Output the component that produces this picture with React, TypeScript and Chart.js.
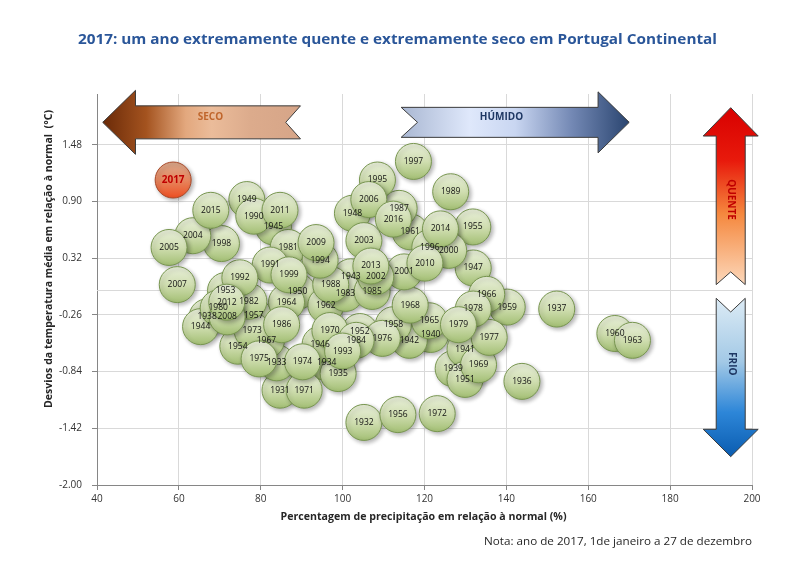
import React, { useEffect, useRef } from 'react';
import { Chart, registerables } from 'chart.js';

Chart.register(...registerables);

// ---- Data ----
const years = [
  1931, 1932, 1933, 1934, 1935, 1936, 1937, 1938, 1939, 1940,
  1941, 1942, 1943, 1944, 1945, 1946, 1947, 1948, 1949, 1950,
  1951, 1952, 1953, 1954, 1955, 1956, 1957, 1958, 1959, 1960,
  1961, 1962, 1963, 1964, 1965, 1966, 1967, 1968, 1969, 1970,
  1971, 1972, 1973, 1974, 1975, 1976, 1977, 1978, 1979, 1980,
  1981, 1982, 1983, 1984, 1985, 1986, 1987, 1988, 1989, 1990,
  1991, 1992, 1993, 1994, 1995, 1996, 1997, 1998, 1999, 2000,
  2001, 2002, 2003, 2004, 2005, 2006, 2007, 2008, 2009, 2010,
  2011, 2012, 2013, 2014, 2015, 2016,
];
const precipitation = [
  84.7, 105.2, 83.9, 96.1, 98.9, 143.8, 152.3, 66.9, 127.0, 121.5,
  129.9, 116.3, 102.0, 65.3, 83.1, 94.5, 131.9, 102.4, 76.6, 89.0,
  129.9, 104.2, 71.4, 74.4, 131.8, 113.5, 78.3, 112.4, 140.2, 166.5,
  116.5, 95.9, 170.8, 86.3, 121.2, 135.2, 81.4, 116.5, 133.2, 96.9,
  90.6, 123.1, 77.9, 90.2, 79.6, 109.7, 135.8, 131.9, 128.3, 69.6,
  86.7, 77.1, 100.7, 103.3, 107.2, 85.1, 113.8, 97.1, 126.4, 78.3,
  82.3, 74.9, 100.0, 94.5, 108.5, 121.3, 117.3, 70.4, 86.9, 125.9,
  115.0, 108.1, 105.2, 63.4, 57.6, 106.4, 59.6, 71.8, 93.5, 120.1,
  84.7, 71.7, 106.9, 123.9, 67.8, 112.4,
];
const temperatureDeviation = [
  -1.03, -1.36, -0.75, -0.75, -0.86, -0.94, -0.20, -0.28, -0.81, -0.46,
  -0.61, -0.52, 0.13, -0.38, 0.64, -0.56, 0.22, 0.78, 0.92, -0.02,
  -0.92, -0.43, -0.01, -0.58, 0.64, -1.28, -0.27, -0.36, -0.18, -0.45,
  0.59, -0.16, -0.52, -0.13, -0.32, -0.05, -0.52, -0.16, -0.77, -0.42,
  -1.03, -1.27, -0.42, -0.74, -0.71, -0.50, -0.49, -0.20, -0.36, -0.19,
  0.43, -0.12, -0.04, -0.52, -0.02, -0.36, 0.83, 0.05, 1.00, 0.75,
  0.25, 0.12, -0.63, 0.30, 1.12, 0.43, 1.31, 0.47, 0.15, 0.40,
  0.18, 0.13, 0.50, 0.55, 0.43, 0.92, 0.05, -0.28, 0.48, 0.27,
  0.81, -0.13, 0.24, 0.62, 0.81, 0.72,
];
const highlightYears = [2017];
const highlightPrecipitation = [58.6];
const highlightTemperature = [1.12];

const xTicks = [40, 60, 80, 100, 120, 140, 160, 180, 200];
const yTicks = [-2.0, -1.42, -0.84, -0.26, 0.32, 0.9, 1.48];

const titleText = '2017: um ano extremamente quente e extremamente seco em Portugal Continental';
const xTitle = 'Percentagem de precipitação em relação à normal (%)';
const yTitle = 'Desvios da temperatura média em relação à normal  (°C)';
const noteText = 'Nota: ano de 2017, 1de janeiro a 27 de dezembro';

const FONT = "'Open Sans', 'Liberation Sans', sans-serif";
const GRID = '#d9d9d9';
const R = 18;

function drawFitted(
  ctx: CanvasRenderingContext2D, text: string, cx: number, cy: number,
  targetW: number, font: string, color: string, rotate = 0,
) {
  ctx.save();
  ctx.font = font;
  const w = ctx.measureText(text).width;
  const sx = w > 0 ? targetW / w : 1;
  ctx.translate(cx, cy);
  if (rotate) ctx.rotate(rotate);
  ctx.scale(sx, 1);
  ctx.textAlign = 'center';
  ctx.textBaseline = 'middle';
  ctx.fillStyle = color;
  ctx.fillText(text, 0, 0);
  ctx.restore();
}

function polygon(ctx: CanvasRenderingContext2D, pts: number[][], fill: CanvasGradient, stroke: string) {
  ctx.beginPath();
  pts.forEach((p, i) => (i === 0 ? ctx.moveTo(p[0], p[1]) : ctx.lineTo(p[0], p[1])));
  ctx.closePath();
  ctx.fillStyle = fill;
  ctx.fill();
  ctx.lineWidth = 1;
  ctx.strokeStyle = stroke;
  ctx.stroke();
}

function hArrow(tipX: number, headX: number, tailX: number, notchX: number, cy: number, shaft: number, head: number) {
  return [
    [tipX, cy], [headX, cy - head], [headX, cy - shaft], [tailX, cy - shaft],
    [notchX, cy], [tailX, cy + shaft], [headX, cy + shaft], [headX, cy + head],
  ];
}
function vArrow(tipY: number, headY: number, tailY: number, notchY: number, cx: number, shaft: number, head: number) {
  return [
    [cx, tipY], [cx + head, headY], [cx + shaft, headY], [cx + shaft, tailY],
    [cx, notchY], [cx - shaft, tailY], [cx - shaft, headY], [cx - head, headY],
  ];
}

const decorPlugin = {
  id: 'decor',
  beforeDatasetsDraw(chart: any) {
    const ctx: CanvasRenderingContext2D = chart.ctx;
    const xs = chart.scales.x;
    const ys = chart.scales.y;
    const { left, right } = chart.chartArea;
    const px = (v: number) => xs.getPixelForValue(v);
    const py = (v: number) => ys.getPixelForValue(v);
    ctx.save();
    // zero line
    const y0 = Math.round(py(0)) + 0.5;
    ctx.strokeStyle = GRID;
    ctx.lineWidth = 1;
    ctx.beginPath();
    ctx.moveTo(left, y0);
    ctx.lineTo(right, y0);
    ctx.stroke();

    // SECO arrow (left)
    {
      const tip = px(41.4), headB = px(49.4), tail = px(89.7), notch = px(86.1), cy = py(1.71);
      const g = ctx.createLinearGradient(tip, 0, tail, 0);
      g.addColorStop(0, '#6a2a08');
      g.addColorStop(0.22, '#a4531f');
      g.addColorStop(0.42, '#e3a87e');
      g.addColorStop(0.55, '#ebbc9a');
      g.addColorStop(0.75, '#dcab8c');
      g.addColorStop(1, '#d6a588');
      polygon(ctx, hArrow(tip, headB, tail, notch, cy, 16.5, 32), g, '#3a3a3a');
      ctx.save();
      ctx.font = `bold 10px ${FONT}`;
      ctx.fillStyle = '#c0662c';
      ctx.textAlign = 'center';
      ctx.textBaseline = 'middle';
      ctx.fillText('SECO', px(67.7), py(1.76));
      ctx.restore();
    }
    // HÚMIDO arrow (right)
    {
      const tip = px(170.0), headB = px(162.4), tail = px(114.3), notch = px(118.3), cy = py(1.71);
      const g = ctx.createLinearGradient(tail, 0, tip, 0);
      g.addColorStop(0, '#a9b7d2');
      g.addColorStop(0.3, '#dfe8fb');
      g.addColorStop(0.5, '#c9d6f1');
      g.addColorStop(0.75, '#7388b4');
      g.addColorStop(1, '#2a4570');
      polygon(ctx, hArrow(tip, headB, tail, notch, cy, 15, 30.5), g, '#3a3a3a');
      ctx.save();
      ctx.font = `bold 10px ${FONT}`;
      ctx.fillStyle = '#1f3864';
      ctx.textAlign = 'center';
      ctx.textBaseline = 'middle';
      ctx.fillText('HÚMIDO', px(138.8), py(1.76));
      ctx.restore();
    }
    // QUENTE arrow (up)
    {
      const cx = px(194.8);
      const tip = py(1.86), headB = py(1.57), tail = py(0.05), notch = py(0.18);
      const g = ctx.createLinearGradient(0, tip, 0, tail);
      g.addColorStop(0, '#d80000');
      g.addColorStop(0.3, '#e81a0c');
      g.addColorStop(0.6, '#f5883e');
      g.addColorStop(1, '#fcd8bb');
      polygon(ctx, vArrow(tip, headB, tail, notch, cx, 14.5, 27.5), g, '#3a3a3a');
      ctx.save();
      ctx.translate(cx, py(0.92));
      ctx.rotate(Math.PI / 2);
      ctx.font = `bold 10px ${FONT}`;
      ctx.fillStyle = '#c00000';
      ctx.textAlign = 'center';
      ctx.textBaseline = 'middle';
      ctx.fillText('QUENTE', 0, 0);
      ctx.restore();
    }
    // FRIO arrow (down)
    {
      const cx = px(194.8);
      const tip = py(-1.71), headB = py(-1.43), tail = py(-0.09), notch = py(-0.23);
      const g = ctx.createLinearGradient(0, tail, 0, tip);
      g.addColorStop(0, '#dcebf5');
      g.addColorStop(0.4, '#a3c9e6');
      g.addColorStop(0.72, '#2d86d8');
      g.addColorStop(1, '#0a5cb0');
      polygon(ctx, vArrow(tip, headB, tail, notch, cx, 14.5, 27.5), g, '#3a3a3a');
      ctx.save();
      ctx.translate(cx + 1, py(-0.76));
      ctx.rotate(Math.PI / 2);
      ctx.font = `bold 10px ${FONT}`;
      ctx.fillStyle = '#1f3864';
      ctx.textAlign = 'center';
      ctx.textBaseline = 'middle';
      ctx.fillText('FRIO', 0, 0);
      ctx.restore();
    }
    ctx.restore();
  },
  beforeDatasetDraw(chart: any) {
    const ctx = chart.ctx;
    ctx.save();
    ctx.shadowColor = 'rgba(0,0,0,0.3)';
    ctx.shadowBlur = 4;
    ctx.shadowOffsetX = 2;
    ctx.shadowOffsetY = 2;
  },
  afterDatasetDraw(chart: any) {
    chart.ctx.restore();
  },
  afterDatasetsDraw(chart: any) {
    const ctx: CanvasRenderingContext2D = chart.ctx;
    ctx.save();
    ctx.textAlign = 'center';
    ctx.textBaseline = 'middle';
    chart.data.datasets.forEach((ds: any, di: number) => {
      const meta = chart.getDatasetMeta(di);
      meta.data.forEach((el: any, i: number) => {
        const label = String(ds.yearLabels[i]);
        if (ds.highlight) {
          ctx.font = `bold 10px ${FONT}`;
          ctx.fillStyle = '#c00000';
        } else {
          ctx.font = `8.5px ${FONT}`;
          ctx.fillStyle = '#111111';
        }
        ctx.fillText(label, el.x, el.y);
      });
    });
    ctx.restore();
  },
  afterDraw(chart: any) {
    const ctx: CanvasRenderingContext2D = chart.ctx;
    const { left, right } = chart.chartArea;
    drawFitted(ctx, titleText, 397.5, 40, 639, `bold 15px ${FONT}`, '#2a5699');
    drawFitted(ctx, yTitle, 49, 259, 298, `bold 11px ${FONT}`, '#262626', -Math.PI / 2);
    drawFitted(ctx, xTitle, (left + right) / 2 - 1, 517, 286, `bold 11px ${FONT}`, '#262626');
    drawFitted(ctx, noteText, 618, 542, 268, `11px ${FONT}`, '#262626');
  },
};

function makeGradient(chart: any, raw: any, colors: string[]) {
  const xs = chart.scales.x;
  const ys = chart.scales.y;
  if (!xs || !ys || !raw) return colors[1];
  const cx = xs.getPixelForValue(raw.x);
  const cy = ys.getPixelForValue(raw.y);
  if (!isFinite(cx) || !isFinite(cy)) return colors[1];
  const g = chart.ctx.createLinearGradient(cx, cy - R, cx, cy + R);
  g.addColorStop(0, colors[0]);
  g.addColorStop(0.5, colors[1]);
  g.addColorStop(1, colors[2]);
  return g;
}

export default function App() {
  const canvasRef = useRef<HTMLCanvasElement | null>(null);

  useEffect(() => {
    if (!canvasRef.current) return;
    const greenColors = ['#e8efd9', '#d0deb1', '#a3bf74'];
    const redColors = ['#d9a88c', '#e6875f', '#ee4f22'];
    const chart = new Chart(canvasRef.current, {
      type: 'bubble',
      data: {
        datasets: [
          {
            label: 'Anos',
            data: years.map((_, i) => ({ x: precipitation[i], y: temperatureDeviation[i] })),
            yearLabels: years,
            radius: R,
            borderWidth: 1,
            borderColor: '#789650',
            backgroundColor: (c: any) => makeGradient(c.chart, c.raw, greenColors),
          } as any,
          {
            label: '2017',
            data: highlightYears.map((_, i) => ({ x: highlightPrecipitation[i], y: highlightTemperature[i] })),
            yearLabels: highlightYears,
            highlight: true,
            radius: R,
            borderWidth: 1,
            borderColor: '#a94a2a',
            backgroundColor: (c: any) => makeGradient(c.chart, c.raw, redColors),
          } as any,
        ],
      },
      options: {
        responsive: false,
        animation: false,
        events: [],
        layout: { padding: { top: 94, right: 53, bottom: 31, left: 0 } },
        plugins: {
          legend: { display: false },
          title: { display: false },
          tooltip: { enabled: false },
        },
        scales: {
          x: {
            type: 'linear',
            min: 40,
            max: 200,
            afterBuildTicks: (scale: any) => {
              scale.ticks = xTicks.map((v) => ({ value: v }));
            },
            afterFit: (scale: any) => {
              scale.height = 45;
            },
            grid: { color: GRID, lineWidth: 1, drawTicks: true, tickLength: 5, tickColor: '#868686' },
            border: { display: true, color: '#868686' },
            ticks: {
              padding: 3,
              color: '#333333',
              font: { family: FONT, size: 10 },
              callback: (v: any) => String(v),
            },
          },
          y: {
            type: 'linear',
            min: -2,
            max: 2,
            afterBuildTicks: (scale: any) => {
              scale.ticks = yTicks.map((v) => ({ value: v }));
            },
            afterFit: (scale: any) => {
              scale.width = 97;
            },
            grid: { color: GRID, lineWidth: 1, drawTicks: true, tickLength: 5, tickColor: '#868686' },
            border: { display: true, color: '#868686' },
            ticks: {
              padding: 10,
              color: '#333333',
              font: { family: FONT, size: 10 },
              callback: (v: any) => Number(v).toFixed(2),
            },
          },
        },
      } as any,
      plugins: [decorPlugin],
    });
    return () => chart.destroy();
  }, []);

  return (
    <div style={{ position: 'absolute', left: 0, top: 0, width: 805, height: 561, background: '#ffffff' }}>
      <canvas ref={canvasRef} width={805} height={561} style={{ display: 'block' }} />
    </div>
  );
}
